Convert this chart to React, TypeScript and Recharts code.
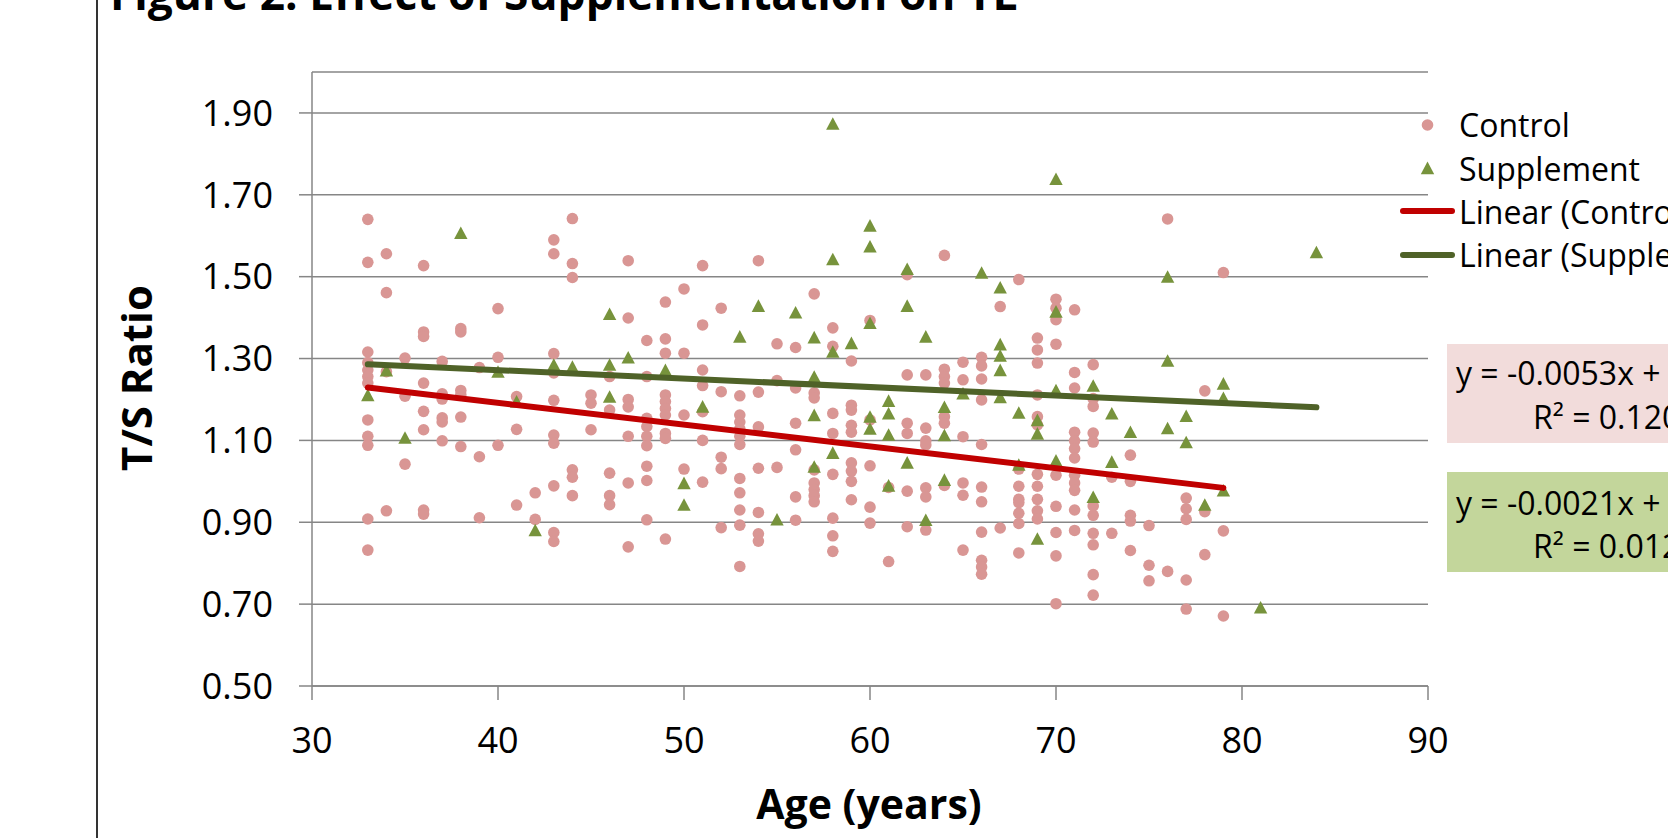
import React from 'react';
import { ScatterChart, Scatter, XAxis, YAxis, CartesianGrid, Legend } from 'recharts';

// Age (years) -> T/S ratios
const controlByAge: [number, number[]][] = [
  [33, [1.64, 1.535, 1.316, 1.29, 1.272, 1.256, 1.24, 1.15, 1.11, 1.088, 0.908, 0.832]],
  [34, [1.556, 1.461, 1.268, 0.928]],
  [35, [1.301, 1.208, 1.042]],
  [36, [1.527, 1.365, 1.354, 1.24, 1.171, 1.126, 0.93, 0.92]],
  [37, [1.293, 1.214, 1.201, 1.155, 1.145, 1.099]],
  [38, [1.373, 1.365, 1.222, 1.211, 1.157, 1.085]],
  [39, [1.278, 1.06, 0.911]],
  [40, [1.422, 1.303, 1.088]],
  [41, [1.207, 1.127, 0.942]],
  [42, [0.972, 0.907]],
  [43, [1.59, 1.556, 1.312, 1.265, 1.198, 1.113, 1.093, 0.989, 0.875, 0.853]],
  [44, [1.642, 1.532, 1.498, 1.028, 1.01, 0.965]],
  [45, [1.211, 1.191, 1.126]],
  [46, [1.256, 1.174, 1.02, 0.965, 0.943]],
  [47, [1.539, 1.399, 1.2, 1.182, 1.11, 0.996, 0.84]],
  [48, [1.344, 1.256, 1.154, 1.134, 1.11, 1.087, 1.037, 1.002, 0.906]],
  [49, [1.438, 1.348, 1.313, 1.211, 1.195, 1.178, 1.162, 1.117, 1.105, 0.859]],
  [50, [1.47, 1.313, 1.162, 1.03]],
  [51, [1.527, 1.382, 1.272, 1.234, 1.17, 1.1, 0.998]],
  [52, [1.423, 1.219, 1.059, 1.031, 0.887]],
  [53, [1.209, 1.162, 1.145, 1.128, 1.11, 1.09, 1.007, 0.972, 0.93, 0.893, 0.792]],
  [54, [1.539, 1.218, 1.133, 1.032, 0.924, 0.872, 0.854]],
  [55, [1.336, 1.246, 1.034]],
  [56, [1.327, 1.228, 1.142, 1.077, 0.962, 0.905]],
  [57, [1.458, 1.216, 1.204, 1.028, 0.996, 0.98, 0.965, 0.95]],
  [58, [1.375, 1.33, 1.166, 1.117, 1.017, 0.91, 0.867, 0.829]],
  [59, [1.294, 1.186, 1.174, 1.137, 1.12, 1.045, 1.025, 1.0, 0.955]],
  [60, [1.393, 1.15, 1.038, 0.937, 0.898]],
  [61, [0.985, 0.804]],
  [62, [1.505, 1.26, 1.142, 1.117, 0.976, 0.889]],
  [63, [1.26, 1.13, 1.099, 1.089, 0.984, 0.962, 0.881]],
  [64, [1.552, 1.274, 1.256, 1.24, 1.158, 1.142, 0.99]],
  [65, [1.291, 1.248, 1.109, 0.996, 0.966, 0.832]],
  [66, [1.303, 1.282, 1.25, 1.199, 1.09, 0.986, 0.95, 0.876, 0.807, 0.791, 0.773]],
  [67, [1.427, 0.886]],
  [68, [1.493, 1.03, 0.988, 0.956, 0.948, 0.922, 0.897, 0.825]],
  [69, [1.35, 1.321, 1.289, 1.211, 1.158, 1.138, 1.017, 0.988, 0.956, 0.928, 0.908]],
  [70, [1.445, 1.423, 1.395, 1.335, 1.015, 0.939, 0.875, 0.818, 0.701]],
  [71, [1.419, 1.266, 1.228, 1.12, 1.099, 1.08, 1.057, 1.015, 0.996, 0.978, 0.93, 0.88]],
  [72, [1.285, 1.202, 1.183, 1.118, 1.096, 0.94, 0.917, 0.873, 0.845, 0.772, 0.722]],
  [73, [1.01, 0.873]],
  [74, [1.064, 1.0, 0.917, 0.903, 0.831]],
  [75, [0.892, 0.795, 0.757]],
  [76, [1.641, 0.78]],
  [77, [0.959, 0.933, 0.907, 0.759, 0.688]],
  [78, [1.221, 0.926, 0.821]],
  [79, [1.51, 0.879, 0.671]],
];

const supplementByAge: [number, number[]][] = [
  [33, [1.211]],
  [34, [1.271]],
  [35, [1.107]],
  [38, [1.607]],
  [40, [1.268]],
  [41, [1.195]],
  [42, [0.881]],
  [43, [1.285]],
  [44, [1.28]],
  [46, [1.409, 1.285, 1.207]],
  [47, [1.303]],
  [49, [1.272]],
  [50, [0.996, 0.943]],
  [51, [1.183]],
  [53, [1.354]],
  [54, [1.429]],
  [55, [0.907]],
  [56, [1.413]],
  [57, [1.352, 1.256, 1.162, 1.036]],
  [58, [1.874, 1.543, 1.317, 1.07]],
  [59, [1.338]],
  [60, [1.625, 1.574, 1.387, 1.158, 1.129]],
  [61, [1.197, 1.166, 1.114, 0.99]],
  [62, [1.519, 1.429, 1.046]],
  [63, [1.354, 0.906]],
  [64, [1.182, 1.113, 1.004]],
  [65, [1.215]],
  [66, [1.51]],
  [67, [1.474, 1.335, 1.307, 1.272, 1.206]],
  [68, [1.168, 1.041]],
  [69, [1.15, 1.117, 0.86]],
  [70, [1.739, 1.415, 1.223, 1.051]],
  [72, [1.234, 0.962]],
  [73, [1.166, 1.048]],
  [74, [1.121]],
  [76, [1.5, 1.295, 1.13]],
  [77, [1.16, 1.096]],
  [78, [0.943]],
  [79, [1.239, 1.204, 0.978]],
  [81, [0.692]],
  [84, [1.56]],
];

// trendline end points as drawn
const controlTrend: [number, number][] = [[33, 1.229], [79, 0.984]];
const supplementTrend: [number, number][] = [[33, 1.286], [84, 1.181]];

const xTicks = [30, 40, 50, 60, 70, 80, 90];
const yTicks = [0.5, 0.7, 0.9, 1.1, 1.3, 1.5, 1.7, 1.9];

const legendLabels = ['Control', 'Supplement', 'Linear (Control)', 'Linear (Supplement)'];

const GRID = '#868686';
const PINK = '#d99694';
const OLIVE = '#77933c';
const RED = '#c00000';
const DARK_GREEN = '#4f6228';
const FONT = '"Open Sans", sans-serif';

const flatten = (rows: [number, number[]][]) =>
  rows.flatMap(([age, vals]) => vals.map((ts) => ({ age, ts })));
const toPts = (rows: [number, number][]) => rows.map(([age, ts]) => ({ age, ts }));

const controlData = flatten(controlByAge);
const supplementData = flatten(supplementByAge);
const controlTrendData = toPts(controlTrend);
const supplementTrendData = toPts(supplementTrend);

const Dot = (props: any) => <circle cx={props.cx} cy={props.cy} r={5.8} fill={PINK} />;

const Tri = (props: any) => {
  const { cx, cy } = props;
  return (
    <polygon
      points={`${cx},${cy - 6.4} ${cx + 6.7},${cy + 6.2} ${cx - 6.7},${cy + 6.2}`}
      fill={OLIVE}
    />
  );
};

const NoShape = () => <g />;

const legendIcon = (i: number) => {
  if (i === 0) return <circle cx={31.5} cy={11} r={5.8} fill={PINK} />;
  if (i === 1)
    return <polygon points="31.5,4.6 38.2,17.2 24.8,17.2" fill={OLIVE} />;
  return (
    <line
      x1={7}
      y1={11}
      x2={56}
      y2={11}
      stroke={i === 2 ? RED : DARK_GREEN}
      strokeWidth={6}
      strokeLinecap="round"
    />
  );
};

const renderLegend = () => (
  <div style={{ fontFamily: FONT, fontSize: 32, color: '#000' }}>
    {legendLabels.map((label, i) => (
      <div
        key={label}
        style={{ display: 'flex', alignItems: 'center', height: 43.4, whiteSpace: 'nowrap' }}
      >
        <svg width={63} height={22} style={{ flex: 'none' }}>
          {legendIcon(i)}
        </svg>
        <span>{label}</span>
      </div>
    ))}
  </div>
);

export default function App() {
  const tick = { fill: '#000', fontSize: 36, fontFamily: FONT };
  const axisStroke = { stroke: GRID, strokeWidth: 1.5 };
  return (
    <div
      style={{
        position: 'fixed',
        left: 0,
        top: 0,
        width: 1668,
        height: 838,
        overflow: 'hidden',
        background: '#fff',
      }}
    >
      <ScatterChart
        width={1668}
        height={838}
        margin={{ top: 72, right: 240, bottom: 52, left: 112 }}
      >
        <CartesianGrid vertical={false} stroke={GRID} strokeWidth={1.5} />
        <XAxis
          type="number"
          dataKey="age"
          domain={[30, 90]}
          ticks={xTicks}
          interval={0}
          height={100}
          tickSize={14}
          tickMargin={27}
          tick={tick}
          axisLine={axisStroke}
          tickLine={axisStroke}
          allowDataOverflow
        />
        <YAxis
          type="number"
          dataKey="ts"
          domain={[0.5, 2]}
          ticks={yTicks}
          interval={0}
          width={200}
          tickSize={13}
          tickMargin={26}
          tick={tick}
          tickFormatter={(v: number) => v.toFixed(2)}
          axisLine={axisStroke}
          tickLine={axisStroke}
          allowDataOverflow
        />
        <Legend
          layout="vertical"
          align="center"
          verticalAlign="middle"
          wrapperStyle={{ left: 1396, top: 103, width: 420 }}
          content={renderLegend}
        />
        <Scatter name="Control" data={controlData} shape={Dot} isAnimationActive={false} />
        <Scatter name="Supplement" data={supplementData} shape={Tri} isAnimationActive={false} />
        <Scatter
          name="Linear (Control)"
          data={controlTrendData}
          shape={NoShape}
          line={{ stroke: RED, strokeWidth: 6, strokeLinecap: 'round' }}
          legendType="line"
          isAnimationActive={false}
        />
        <Scatter
          name="Linear (Supplement)"
          data={supplementTrendData}
          shape={NoShape}
          line={{ stroke: DARK_GREEN, strokeWidth: 6, strokeLinecap: 'round' }}
          legendType="line"
          isAnimationActive={false}
        />
      </ScatterChart>
      <svg
        width={1668}
        height={838}
        style={{ position: 'absolute', left: 0, top: 0, pointerEvents: 'none' }}
      >
        <line x1={97} y1={0} x2={97} y2={838} stroke="#000" strokeWidth={1.6} />
        <text x={110} y={10} fontFamily={FONT} fontWeight={700} fontSize={44.3} fill="#000">
          Figure 2: Effect of Supplementation on TL
        </text>
        <text
          transform="translate(152,378) rotate(-90)"
          textAnchor="middle"
          fontFamily={FONT}
          fontWeight={700}
          fontSize={42}
          fill="#000"
        >
          T/S Ratio
        </text>
        <text
          x={869}
          y={819}
          textAnchor="middle"
          fontFamily={FONT}
          fontWeight={700}
          fontSize={41}
          fill="#000"
        >
          Age (years)
        </text>
        <rect x={1447} y={344} width={260} height={99} fill="#f2dcdb" />
        <text x={1456} y={385} fontFamily={FONT} fontSize={32} fill="#000">
          y = -0.0053x + 1.4031
        </text>
        <text x={1533} y={429} fontFamily={FONT} fontSize={32} fill="#000">
          R² = 0.1206
        </text>
        <rect x={1447} y={472} width={260} height={100} fill="#c3d69b" />
        <text x={1456} y={515} fontFamily={FONT} fontSize={32} fill="#000">
          y = -0.0021x + 1.3536
        </text>
        <text x={1533} y={558} fontFamily={FONT} fontSize={32} fill="#000">
          R² = 0.0126
        </text>
      </svg>
    </div>
  );
}
